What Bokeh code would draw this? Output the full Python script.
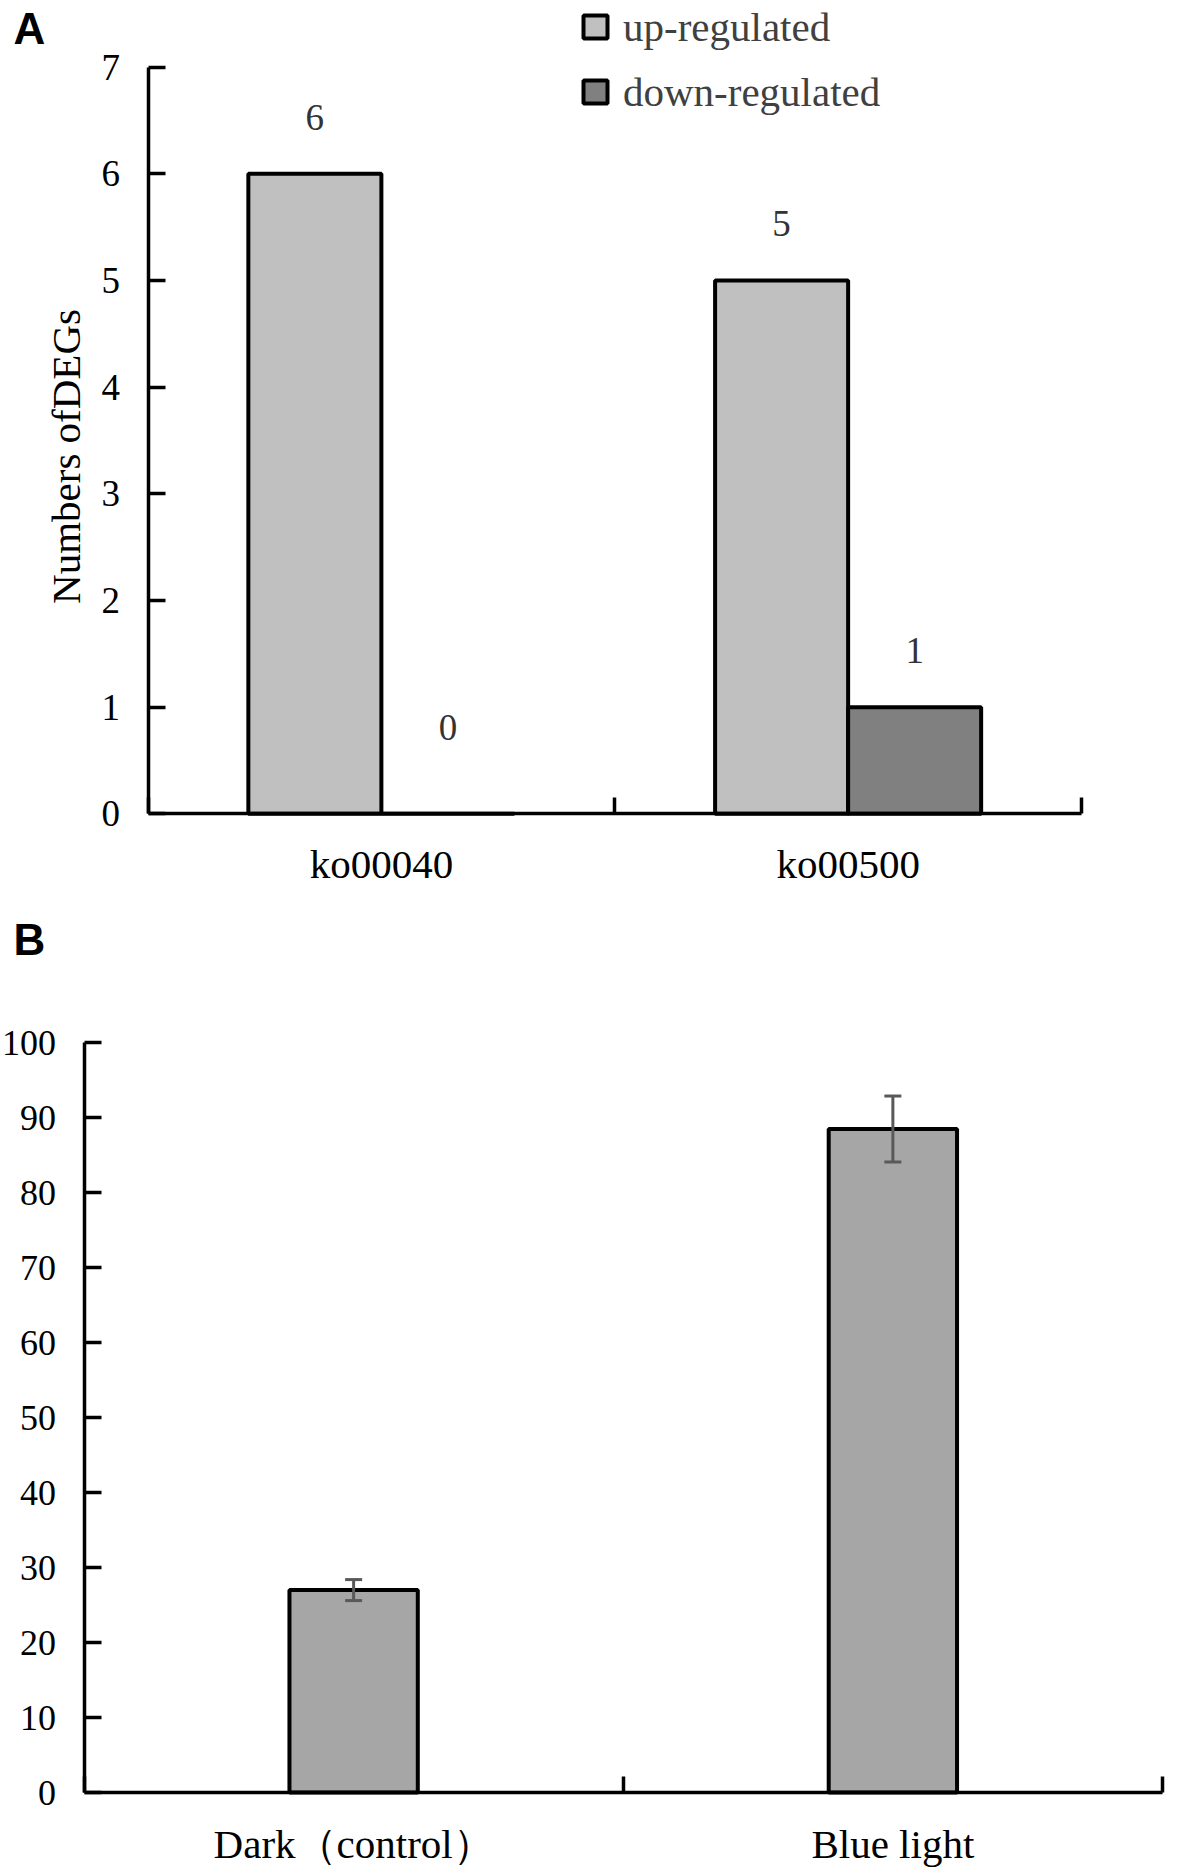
import math
from bokeh.plotting import figure
from bokeh.models import (Range1d, FixedTicker, LinearAxis, Legend, LegendItem,
                          Label, Whisker, ColumnDataSource, TeeHead)
from bokeh.layouts import column
from bokeh.embed import file_html
from bokeh.resources import INLINE
from bokeh.core.properties import value

# ---------------- data ----------------
# Panel A
pathways = ["ko00040", "ko00500"]
up_regulated = [6, 5]
down_regulated = [0, 1]
a_yticks = [0, 1, 2, 3, 4, 5, 6, 7]
series_names = ["up-regulated", "down-regulated"]
a_ylabel = "Numbers ofDEGs"

# Panel B
conditions = ["Dark\uff08control\uff09", "Blue light"]
b_means = [27.0, 88.5]
b_errors = [1.4, 4.4]
b_yticks = [0, 10, 20, 30, 40, 50, 60, 70, 80, 90, 100]

# ---------------- style / layout (pixels) ----------------
SERIF = "Liberation Serif"
SANS = "Liberation Sans"
AX_W = 3.5
BAR_LINE = 4
UP_COLOR = "#c0c0c0"
DOWN_COLOR = "#808080"
B_COLOR = "#a6a6a6"
ERR_COLOR = "#595959"
A_BAR_W = 0.285
B_BAR_W = 0.238
LABEL_GAP = 0.53
ZERO_LABEL_GAP = 0.81

W = 1185
HA, HB = 900, 972
# panel A: pixel positions of axis origin / ends inside its canvas
A_X0, A_X1 = 147.5, 1081.0      # x of first / last category boundary
A_Y0, A_Y1 = 813.3, 66.7        # y of 0 and of top tick
# panel B (canvas coordinates, canvas starts at HA)
B_X0, B_X1 = 83.5, 1162.0
B_Y0, B_Y1 = 1792.0 - HA, 1042.3 - HA


def ranges(x0, x1, n, y0, y1, ytop, h):
    sx = (x1 - x0) / n
    sy = (y0 - y1) / ytop
    xr = Range1d(-x0 / sx, n + (W - x1) / sx)
    yr = Range1d(-(h - y0) / sy, ytop + y1 / sy)
    return xr, yr, sx, sy


def y_axis(ticks, font_size, standoff):
    return LinearAxis(
        ticker=FixedTicker(ticks=ticks),
        bounds=(min(ticks), max(ticks)), fixed_location=0,
        axis_line_width=AX_W, axis_line_color="black",
        major_tick_in=17, major_tick_out=0,
        major_tick_line_width=AX_W, major_tick_line_color="black",
        minor_tick_line_color=None,
        major_label_standoff=standoff,
        major_label_text_font=SERIF,
        major_label_text_font_size=font_size,
        major_label_text_color="black",
    )


def x_axis(names, font_size, standoff):
    n = len(names)
    centers = [i + 0.5 for i in range(n)]
    bounds = [float(i) for i in range(n + 1)]
    return LinearAxis(
        ticker=FixedTicker(ticks=centers, minor_ticks=bounds),
        bounds=(0, n), fixed_location=0,
        major_label_overrides={c: nm for c, nm in zip(centers, names)},
        axis_line_width=AX_W, axis_line_color="black",
        major_tick_line_color=None, major_tick_in=0, major_tick_out=0,
        minor_tick_in=16, minor_tick_out=0,
        minor_tick_line_width=AX_W, minor_tick_line_color="black",
        major_label_standoff=standoff,
        major_label_text_font=SERIF,
        major_label_text_font_size=font_size,
        major_label_text_color="black",
    )


def base_fig(xr, yr, h):
    p = figure(width=W, height=h, x_range=xr, y_range=yr,
               x_axis_type=None, y_axis_type=None, title=None,
               output_backend="svg", toolbar_location=None,
               min_border_left=0, min_border_right=0,
               min_border_top=0, min_border_bottom=0)
    p.frame_align = False
    p.outline_line_color = None
    p.grid.visible = False
    p.background_fill_color = "white"
    p.border_fill_color = "white"
    return p


# ---------------- Panel A ----------------
nA = len(pathways)
centersA = [i + 0.5 for i in range(nA)]
xrA, yrA, sxA, syA = ranges(A_X0, A_X1, nA, A_Y0, A_Y1, max(a_yticks), HA)
pA = base_fig(xrA, yrA, HA)

pA.add_layout(y_axis(a_yticks, "37px", 28), "left")
pA.add_layout(x_axis(pathways, "41px", 27), "below")

x_up = [c - A_BAR_W / 2 for c in centersA]
x_down = [c + A_BAR_W / 2 for c in centersA]
r_up = pA.vbar(x=x_up, top=up_regulated, width=A_BAR_W, bottom=0,
               fill_color=UP_COLOR, line_color="black", line_width=BAR_LINE)
r_down = pA.vbar(x=x_down, top=down_regulated, width=A_BAR_W, bottom=0,
                 fill_color=DOWN_COLOR, line_color="black", line_width=BAR_LINE)

lab_x = x_up + x_down
lab_vals = up_regulated + down_regulated
lab_y = [v + (LABEL_GAP if v > 0 else ZERO_LABEL_GAP) for v in lab_vals]
pA.text(x=lab_x, y=lab_y, text=[str(v) for v in lab_vals],
        text_font=value(SERIF), text_font_size="37px", text_color="#333333",
        text_align="center", text_baseline="middle")

legend = Legend(items=[LegendItem(label=series_names[0], renderers=[r_up]),
                       LegendItem(label=series_names[1], renderers=[r_down])],
                location=(580, HA - 115.5), orientation="vertical",
                glyph_width=30, glyph_height=29, label_standoff=13,
                spacing=17, padding=0, margin=0,
                border_line_color=None, background_fill_alpha=0,
                label_text_font=SERIF, label_text_font_size="41px",
                label_text_color="#404040")
pA.add_layout(legend)

# y-axis title (rotated) and panel letter
pA.add_layout(Label(x=(65 - A_X0) / sxA, y=(A_Y0 - 456) / syA, text=a_ylabel,
                    angle=math.pi / 2, text_align="center", text_baseline="middle",
                    text_font=SERIF, text_font_size="41px", text_color="black"))
pA.add_layout(Label(x=(13 - A_X0) / sxA, y=(A_Y0 - 28) / syA, text="A",
                    text_font=SANS, text_font_style="bold", text_font_size="44px",
                    text_baseline="middle", text_color="black"))

# ---------------- Panel B ----------------
nB = len(conditions)
centersB = [i + 0.5 for i in range(nB)]
xrB, yrB, sxB, syB = ranges(B_X0, B_X1, nB, B_Y0, B_Y1, max(b_yticks), HB)
pB = base_fig(xrB, yrB, HB)

pB.add_layout(y_axis(b_yticks, "36px", 28), "left")
pB.add_layout(x_axis(conditions, "41px", 28), "below")

pB.vbar(x=centersB, top=b_means, width=B_BAR_W, bottom=0,
        fill_color=B_COLOR, line_color="black", line_width=BAR_LINE)

err_src = ColumnDataSource(dict(
    x=centersB,
    upper=[m + e for m, e in zip(b_means, b_errors)],
    lower=[m - e for m, e in zip(b_means, b_errors)],
))
whisk = Whisker(base="x", upper="upper", lower="lower", source=err_src,
                line_color=ERR_COLOR, line_width=3, level="overlay",
                upper_head=TeeHead(size=17, line_color=ERR_COLOR, line_width=3),
                lower_head=TeeHead(size=17, line_color=ERR_COLOR, line_width=3))
pB.add_layout(whisk)

pB.add_layout(Label(x=(13 - B_X0) / sxB, y=(B_Y0 - (939 - HA)) / syB, text="B",
                    text_font=SANS, text_font_style="bold", text_font_size="44px",
                    text_baseline="middle", text_color="black"))

layout = column(pA, pB, spacing=0)
open("out.html", "w").write(file_html(layout, INLINE))
